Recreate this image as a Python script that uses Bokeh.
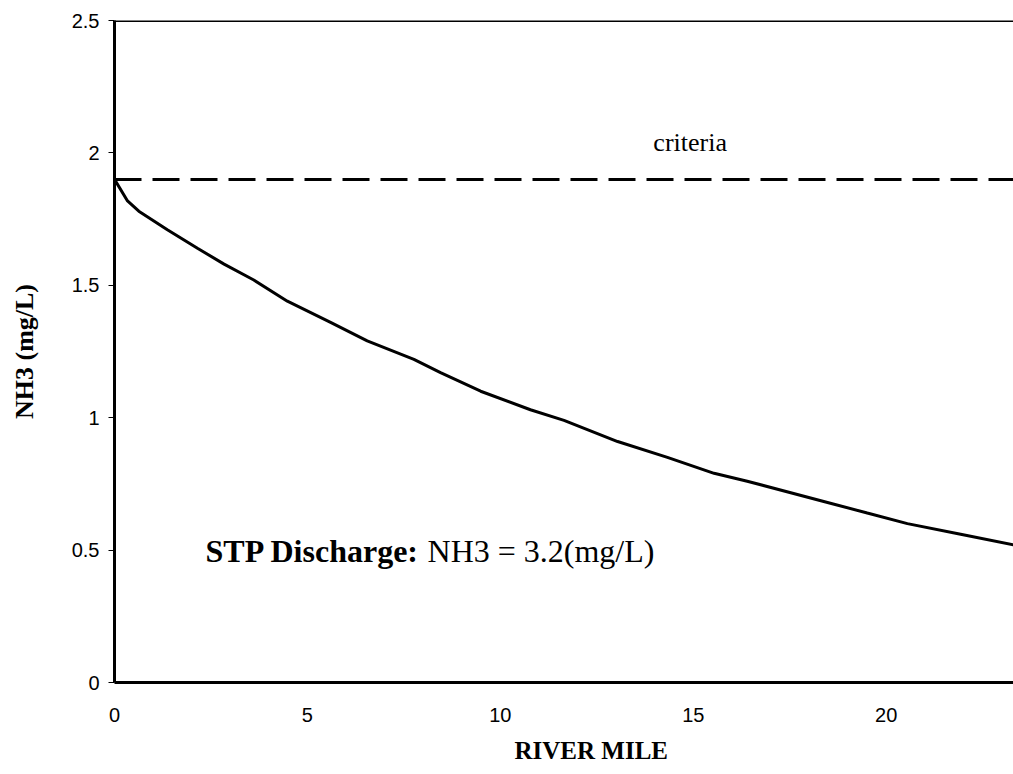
from bokeh.plotting import figure
from bokeh.models import Label, Span, FixedTicker, Range1d, Title
from bokeh.embed import file_html
from bokeh.resources import INLINE

# ---- data ----
river_mile = [0, 0.33, 0.63, 1.37, 2.15, 2.84, 3.61, 4.48, 5.60, 6.55, 7.76, 8.45,
              9.49, 10.78, 11.65, 13.04, 14.33, 15.54, 16.40, 18.48, 19.51, 20.55,
              21.93, 23.30]
nh3 = [1.90, 1.82, 1.78, 1.71, 1.64, 1.58, 1.52, 1.44, 1.36, 1.29, 1.22, 1.17,
       1.10, 1.03, 0.99, 0.91, 0.85, 0.79, 0.76, 0.68, 0.64, 0.60, 0.56, 0.52]
criteria_x = [0, 23.3]
criteria_y = [1.9, 1.9]

x_ticks = [0, 5, 10, 15, 20]
x_tick_labels = ["0", "5", "10", "15", "20"]
y_ticks = [0, 0.5, 1, 1.5, 2, 2.5]
y_tick_labels = ["0", "0.5", "1", "1.5", "2", "2.5"]

x_title = "RIVER MILE"
y_title = "NH3 (mg/L)"
criteria_text = "criteria"
note_bold = "STP Discharge:"
note_plain = "NH3 = 3.2(mg/L)"

p = figure(width=1013, height=774,
           x_range=Range1d(0, 23.3), y_range=Range1d(0, 2.5),
           output_backend="svg", toolbar_location=None,
           min_border_left=114, min_border_right=0,
           min_border_top=20, min_border_bottom=92)

p.background_fill_color = "white"
p.border_fill_color = "white"
p.outline_line_color = None
p.xgrid.visible = False
p.ygrid.visible = False

p.line(criteria_x, criteria_y, line_color="black", line_width=3, line_dash="27 11")
p.line(river_mile, nh3, line_color="black", line_width=3)

# top border of the plot area
p.add_layout(Span(location=2.5, dimension="width", line_color="black", line_width=3))

xa = p.xaxis[0]
xa.ticker = FixedTicker(ticks=x_ticks)
xa.major_label_overrides = {t: l for t, l in zip(x_ticks, x_tick_labels)}
xa.axis_line_width = 3
xa.axis_line_color = "black"
xa.major_tick_out = 0
xa.major_tick_in = 0
xa.minor_tick_out = 0
xa.minor_tick_in = 0
xa.major_label_standoff = 25
xa.major_label_text_font = "Liberation Sans"
xa.major_label_text_font_size = "20px"
xa.major_label_text_color = "black"

ya = p.yaxis[0]
ya.ticker = FixedTicker(ticks=y_ticks)
ya.major_label_overrides = {t: l for t, l in zip(y_ticks, y_tick_labels)}
ya.axis_line_width = 3
ya.axis_line_color = "black"
ya.major_tick_out = 6
ya.major_tick_in = 0
ya.major_tick_line_color = "black"
ya.minor_tick_out = 0
ya.minor_tick_in = 0
ya.major_label_standoff = 9
ya.major_label_text_font = "Liberation Sans"
ya.major_label_text_font_size = "20px"
ya.major_label_text_color = "black"
ya.axis_label = y_title
ya.axis_label_text_font = "Liberation Serif"
ya.axis_label_text_font_style = "bold"
ya.axis_label_text_font_size = "26px"
ya.axis_label_text_color = "black"
ya.axis_label_standoff = 30

p.add_layout(Label(x=14.92, y=2.04, text=criteria_text, text_align="center",
                   text_baseline="alphabetic", text_font="Liberation Serif",
                   text_font_size="26px", text_color="black"))

p.add_layout(Label(x=2.36, y=0.495, text=note_bold, text_align="left",
                   text_baseline="alphabetic", text_font="Liberation Serif",
                   text_font_style="bold", text_font_size="32px", text_color="black"))
p.add_layout(Label(x=2.36, y=0.495, x_offset=222, text=note_plain, text_align="left",
                   text_baseline="alphabetic", text_font="Liberation Serif",
                   text_font_size="32px", text_color="black"))

p.add_layout(Title(text=x_title, align="left", offset=400, vertical_align="bottom",
                   text_font="Liberation Serif", text_font_style="bold",
                   text_font_size="25px", text_color="black", standoff=21), "below")

open("out.html", "w").write(file_html(p, INLINE))
